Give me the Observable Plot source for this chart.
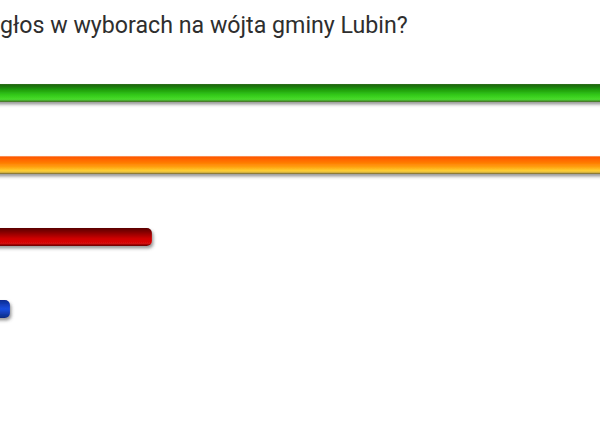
<!DOCTYPE html>
<html><head><meta charset="utf-8">
<script src="https://cdn.jsdelivr.net/npm/d3@7"></script>
<script src="https://cdn.jsdelivr.net/npm/@observablehq/plot@0.6"></script>
<style>
body{margin:0;background:#fff;overflow:hidden;width:600px;height:426px;position:relative}
#title{position:absolute;left:0px;top:11px;font-family:Roboto,sans-serif;font-size:23.2px;line-height:28px;color:#2e2e2e;white-space:nowrap}
#chart{position:absolute;left:0;top:50px}
</style></head><body>
<div id="title">głos w wyborach na wójta gminy Lubin?</div>
<div id="chart"></div>
<script>
// Poll answers (labels are not visible in the cropped reference)
const answers = ["Odpowiedź 1", "Odpowiedź 2", "Odpowiedź 3", "Odpowiedź 4"];
const shares = [48, 44, 12, 3];
const visibleRange = [2.37, 40.4];

const data = answers.map((a, i) => ({answer: a, share: shares[i]}));

const gradients = [
  [[0,"#2f6f1f"],[0.1,"#1a6e0c"],[0.3,"#1f9a0c"],[0.6,"#33c818"],[0.85,"#48dc2c"],[0.93,"#4aa030"],[1,"#4a6a2a"]],
  [[0,"#f8a878"],[0.08,"#ff5a00"],[0.35,"#ff7800"],[0.6,"#ffa010"],[0.8,"#ffcc30"],[0.9,"#e8c040"],[1,"#6a6030"]],
  [[0,"#5a0000"],[0.25,"#8a0000"],[0.6,"#d00000"],[0.85,"#d80808"],[1,"#600000"]],
  [[0,"#0a2a90"],[0.5,"#1a4ee0"],[1,"#0a2a80"]]
];

const chart = Plot.plot({
  width: 600,
  height: 376,
  marginLeft: 0,
  marginRight: 0,
  marginTop: 5,
  marginBottom: 80,
  x: {domain: visibleRange, axis: null},
  y: {domain: answers, padding: 0, axis: null},
  marks: [
    Plot.barX(data, {x: "share", y: "answer", fill: "answer", insetTop: 27, insetBottom: 27, rx: 5})
  ]
});

const svg = d3.select(chart);
const defs = svg.insert("defs", ":first-child");
gradients.forEach((stops, i) => {
  const g = defs.append("linearGradient").attr("id", "grad" + i)
    .attr("x1", 0).attr("y1", 0).attr("x2", 0).attr("y2", 1);
  stops.forEach(([o, c]) => g.append("stop").attr("offset", o).attr("stop-color", c));
});
const f = defs.append("filter").attr("id", "shadow")
  .attr("x", "-5%").attr("y", "-60%").attr("width", "115%").attr("height", "240%");
f.append("feDropShadow").attr("dx", 1.5).attr("dy", 2.5).attr("stdDeviation", 1.8)
  .attr("flood-color", "#555").attr("flood-opacity", 0.6);

svg.selectAll("g[aria-label='bar'] rect").each(function(d, i) {
  const idx = answers.indexOf(data[i].answer);
  d3.select(this).attr("fill", `url(#grad${idx})`).attr("filter", "url(#shadow)");
});

document.getElementById("chart").appendChild(chart);
</script>
</body></html>
